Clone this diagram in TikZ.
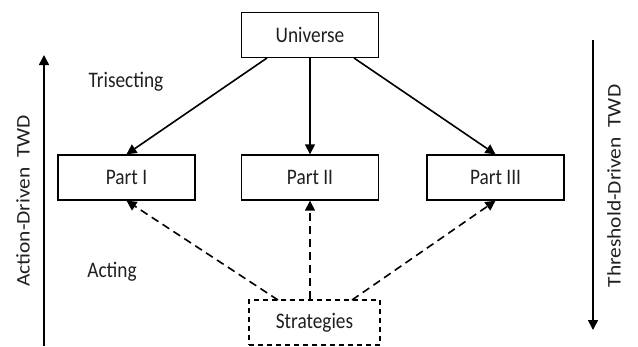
\documentclass[tikz,border=0pt]{standalone}
\usepackage{fontspec}
\usepackage{graphicx}
\setmainfont{Carlito}
\usetikzlibrary{arrows.meta}
\newcommand\tallt[1]{\scalebox{1}[1.15]{#1}}
\newcommand\longt[1]{\scalebox{1.11}[1]{#1}}
\begin{document}
\begin{tikzpicture}[x=1pt,y=-1pt,
  every node/.style={font=\fontsize{19.3}{22}\selectfont, text=black!88},
  box/.style={draw,line width=1.4pt,minimum width=137pt,minimum height=45pt,inner sep=0pt},
  dbox/.style={box,dashed,line width=1.2pt,dash pattern=on 5pt off 4pt},
  arr/.style={line width=1.6pt,-{Triangle[length=10pt,width=10pt]}},
  darr/.style={arr,dash pattern=on 8pt off 5pt}]
\useasboundingbox (0,0) rectangle (638,346);
\node[box] (U) at (310,35) {\tallt{Universe}};
\node[box] (P1) at (126.5,177.5) {\tallt{Part I}};
\node[box] (P2) at (310,177.5) {\tallt{Part II}};
\node[box] (P3) at (495.5,177.5) {\tallt{Part III}};
\node[dbox,minimum width=131pt] (S) at (314.5,322.5) {\tallt{Strategies}};
\coordinate (U1) at (267,58);
\coordinate (U3) at (354,58);
\coordinate (S1) at (278,300);
\coordinate (S3) at (352,300);
\draw[arr] (U1) -- (P1.north);
\draw[arr] (U.south) -- (P2.north);
\draw[arr] (U3) -- (P3.north);
\draw[darr] (S1) -- (P1.south);
\draw[darr] (S.north -| P2.south) -- (P2.south);
\draw[darr] (S3) -- (P3.south);
\node (tri) at (126,82) {\tallt{Trisecting}};
\node (act) at (112,272) {\tallt{Acting}};
\coordinate (La) at (44,346);
\coordinate (Lb) at (44,55);
\draw[arr] (La) -- (Lb);
\coordinate (Ra) at (593,40);
\coordinate (Rb) at (593,330);
\draw[arr] (Ra) -- (Rb);
\node[rotate=90] (ad) at (23,201) {\longt{Action-Driven\ \ TWD}};
\node[rotate=90] (td) at (614,186) {\longt{Threshold-Driven\ \ TWD}};
\end{tikzpicture}
\end{document}
